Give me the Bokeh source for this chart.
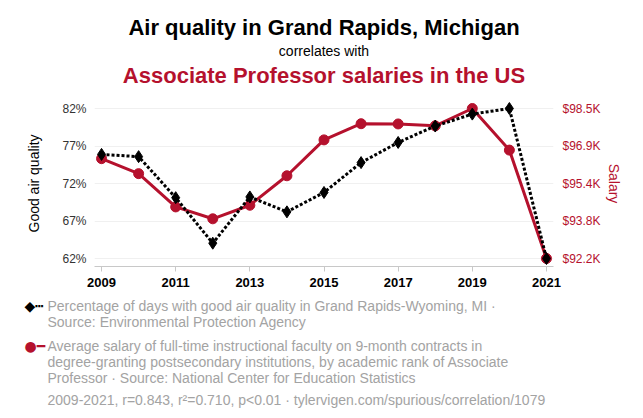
from bokeh.plotting import figure
from bokeh.models import Range1d, LinearAxis, FixedTicker, ColumnDataSource, Title
from bokeh.embed import file_html
from bokeh.resources import INLINE

years = [2009, 2010, 2011, 2012, 2013, 2014, 2015, 2016, 2017, 2018, 2019, 2020, 2021]
air_quality = [75.9, 75.6, 70.1, 64.0, 70.2, 68.2, 70.8, 74.8, 77.5, 79.7, 81.3, 82.05, 61.95]
salary_k = [96.41, 95.78, 94.38, 93.88, 94.45, 95.69, 97.20, 97.88, 97.87, 97.79, 98.52, 96.77, 92.21]
x_ticks = [2009, 2011, 2013, 2015, 2017, 2019, 2021]

title_top = "Air quality in Grand Rapids, Michigan"
title_mid = "correlates with"
title_bot = "Associate Professor salaries in the US"
legend1 = ["Percentage of days with good air quality in Grand Rapids-Wyoming, MI \u00b7",
           "Source: Environmental Protection Agency"]
legend2 = ["Average salary of full-time instructional faculty on 9-month contracts in",
           "degree-granting postsecondary institutions, by academic rank of Associate",
           "Professor \u00b7 Source: National Center for Education Statistics"]
footnote = "2009-2021, r=0.843, r\u00b2=0.710, p<0.01 \u00b7 tylervigen.com/spurious/correlation/1079"

RED = "#b5112d"
GRAY = "#a3a3a3"
FONT = "Liberation Sans"
W, H = 635, 410
LEFT, RIGHT, TOP, BOTTOM = 94, 553, 100, 266   # frame edges on the canvas


def padded(vals, frac=8 / 150):
    lo, hi = min(vals), max(vals)
    span = hi - lo
    return lo - span * frac, hi + span * frac, lo, hi


l_start, l_end, l_lo, l_hi = padded(air_quality)
r_start, r_end, r_lo, r_hi = padded(salary_k)
l_ticks = [l_lo + i * (l_hi - l_lo) / 4 for i in range(5)]
r_ticks = [r_lo + i * (r_hi - r_lo) / 4 for i in range(5)]

p = figure(width=W, height=H, output_backend="svg", toolbar_location=None, title=None,
           x_range=Range1d(2008.81, 2021.19), y_range=Range1d(l_start, l_end),
           min_border_top=TOP, min_border_bottom=H - BOTTOM,
           min_border_left=LEFT, min_border_right=W - RIGHT,
           outline_line_color=None)
p.extra_y_ranges = {"sal": Range1d(r_start, r_end)}

p.xaxis.ticker = FixedTicker(ticks=x_ticks)
p.xaxis.axis_line_color = "#c8c8c8"
p.xaxis.major_tick_line_color = "#c8c8c8"
p.xaxis.major_tick_in = 0
p.xaxis.major_tick_out = 5
p.xaxis.minor_tick_line_color = None
p.xaxis.major_label_text_font = FONT
p.xaxis.major_label_text_font_size = "13px"
p.xaxis.major_label_text_font_style = "bold"
p.xaxis.major_label_text_color = "black"
p.xaxis.major_label_standoff = 6

ly = p.yaxis[0]
ly.ticker = FixedTicker(ticks=l_ticks)
ly.major_label_overrides = {t: f"{round(t)}%" for t in l_ticks}
ly.axis_line_color = None
ly.major_tick_line_color = None
ly.major_tick_in = 0
ly.major_tick_out = 0
ly.minor_tick_line_color = None
ly.major_label_standoff = 8
ly.major_label_text_font = FONT
ly.major_label_text_font_size = "12px"
ly.major_label_text_color = "#333333"
ly.axis_label = "Good air quality"
ly.axis_label_text_font = FONT
ly.axis_label_text_font_size = "14px"
ly.axis_label_text_font_style = "normal"
ly.axis_label_text_color = "black"
ly.axis_label_standoff = 17

ry = LinearAxis(y_range_name="sal", ticker=FixedTicker(ticks=r_ticks))
ry.major_label_overrides = {t: f"${t:.1f}K" for t in r_ticks}
ry.axis_line_color = None
ry.major_tick_line_color = None
ry.major_tick_in = 0
ry.major_tick_out = 0
ry.minor_tick_line_color = None
ry.major_label_standoff = 9
ry.major_label_text_font = FONT
ry.major_label_text_font_size = "12px"
ry.major_label_text_color = RED
ry.axis_label = "Salary"
ry.axis_label_text_font = FONT
ry.axis_label_text_font_size = "14px"
ry.axis_label_text_font_style = "normal"
ry.axis_label_text_color = RED
ry.axis_label_standoff = 2
p.add_layout(ry, "right")

p.xgrid.visible = False
p.ygrid.ticker = FixedTicker(ticks=l_ticks)
p.ygrid.grid_line_color = "#f0f0f0"
p.ygrid.grid_line_width = 1

src = ColumnDataSource(dict(year=years, aq=air_quality, sal=salary_k))
p.line("year", "sal", source=src, y_range_name="sal", line_color=RED, line_width=3)
p.scatter("year", "sal", source=src, y_range_name="sal", marker="circle", size=10,
          fill_color=RED, line_color=RED)
p.line("year", "aq", source=src, line_color="black", line_width=3, line_dash="3 2")
p.scatter("year", "aq", source=src, marker="diamond", size=12, fill_color="black", line_color="black")


def text_title(text, size, color, bold, standoff, align="center", offset=0, font=FONT):
    return Title(text=text, align=align, offset=offset, vertical_align="middle", standoff=standoff,
                 text_font=font, text_font_size=size, text_color=color,
                 text_font_style="bold" if bold else "normal")


def spacer(standoff):
    return text_title(" ", "1px", "white", False, standoff)


# ---------- header: stacked above the frame (first added = nearest the frame) ----------
p.add_layout(spacer(9), "above")
p.add_layout(text_title(title_bot, "22px", RED, True, 0), "above")
p.add_layout(text_title(title_mid, "14px", "black", False, 3), "above")
p.add_layout(text_title(title_top, "22px", "black", True, 0), "above")


# ---------- footer: stacked below the x axis ----------
def foot_line(text, flat=False):
    # flat=True: zero-height slot, text centred on the slot boundary
    return text_title(text, "14px", GRAY, False, -18 if flat else -2, align="left", offset=-47)


def key(symbols, color):
    return text_title(symbols, "14px", color, False, -18, align="left", offset=-70, font="DejaVu Sans")


p.add_layout(spacer(13), "below")
p.add_layout(foot_line(legend1[0], flat=True), "below")
p.add_layout(key("\u25c6\u2505", "black"), "below")
p.add_layout(spacer(5), "below")
for line in legend1[1:]:
    p.add_layout(foot_line(line), "below")
p.add_layout(spacer(13), "below")
p.add_layout(foot_line(legend2[0], flat=True), "below")
p.add_layout(key("\u25cf\u2501", RED), "below")
p.add_layout(spacer(5), "below")
for line in legend2[1:]:
    p.add_layout(foot_line(line), "below")
p.add_layout(spacer(3), "below")
p.add_layout(foot_line(footnote), "below")

open("out.html", "w").write(file_html(p, INLINE))
